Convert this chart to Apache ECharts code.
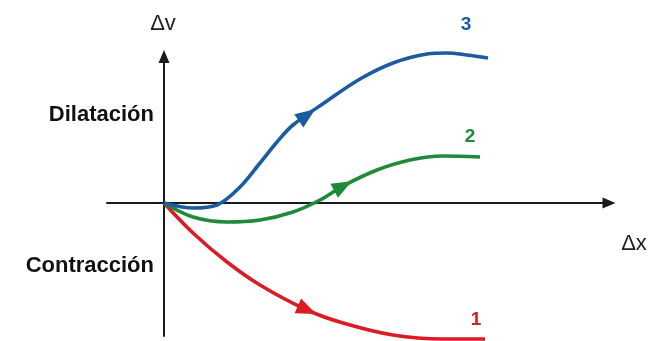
<!DOCTYPE html>
<html>
<head>
<meta charset="utf-8">
<script src="https://cdn.jsdelivr.net/npm/echarts@6/dist/echarts.min.js"></script>
<style>
  html, body { margin: 0; padding: 0; background: #fff; }
  #chart { width: 659px; height: 341px; }
</style>
</head>
<body>
<div id="chart"></div>
<script>
// Volume change (Δv) against shear displacement (Δx) for three soil behaviours.
const curve1 = [[0, 0], [0.29, -0.30], [0.63, -0.59], [0.96, -0.82], [1.43, -1.07],
                [1.79, -1.20], [2.29, -1.32], [2.79, -1.36], [3.21, -1.36]];
const curve2 = [[0, 0], [0.29, -0.14], [0.63, -0.19], [0.96, -0.17], [1.29, -0.09],
                [1.56, 0.03], [1.79, 0.17], [2.13, 0.33], [2.46, 0.43], [2.79, 0.47], [3.16, 0.46]];
const curve3 = [[0, 0], [0.29, -0.05], [0.53, -0.02], [0.76, 0.16], [0.96, 0.40],
                [1.13, 0.61], [1.29, 0.78], [1.63, 1.02], [1.96, 1.24], [2.29, 1.40],
                [2.63, 1.49], [2.83, 1.50], [3.03, 1.48], [3.24, 1.45]];

// Where the direction arrows sit on each curve (Δx position).
const arrowX = { c1: 1.43, c2: 1.79, c3: 1.43 };

const curveNames = ['1', '2', '3'];
const colors = { c1: '#dc1c24', c2: '#1f8a3a', c3: '#1b5c9f' };
const zoneLabels = ['Dilatación', 'Contracción'];
const axisNames = ['Δx', 'Δv'];

function interp(data, x) {
  for (let i = 0; i < data.length - 1; i++) {
    const a = data[i], b = data[i + 1];
    if (x >= a[0] && x <= b[0]) {
      const t = (x - a[0]) / (b[0] - a[0]);
      return a[1] + t * (b[1] - a[1]);
    }
  }
  return data[data.length - 1][1];
}

const chart = echarts.init(document.getElementById('chart'), null, { renderer: 'canvas' });

const axisLine = {
  show: true,
  onZero: true,
  symbol: ['none', 'triangle'],
  symbolSize: [11, 13],
  lineStyle: { color: '#1a1a1a', width: 2 }
};

function curveSeries(name, data, color, offset) {
  return {
    type: 'line',
    name: name,
    data: data,
    smooth: 0.35,
    showSymbol: false,
    clip: false,
    lineStyle: { color: color, width: 3.6 },
    endLabel: {
      show: true,
      formatter: name,
      color: color,
      fontFamily: 'Liberation Sans, Arial, sans-serif',
      fontWeight: 'bold',
      fontSize: 19,
      align: 'center',
      verticalAlign: 'middle',
      distance: 0,
      offset: offset
    },
    emphasis: { disabled: true },
    z: 3
  };
}

function arrowSeries(key, data, rot) {
  const x = arrowX[key];
  return {
    type: 'scatter',
    data: [[x, interp(data, x)]],
    symbol: 'triangle',
    symbolSize: [16, 20],
    symbolRotate: rot,
    itemStyle: { color: colors[key], opacity: 1 },
    clip: false,
    silent: true,
    z: 4
  };
}

function buildOption(rots) {
  return {
    animation: false,
    grid: { left: 107, right: 50, top: 56.5, bottom: 5 },
    xAxis: {
      type: 'value', min: -0.57, max: 4.45,
      axisLine: axisLine, axisTick: { show: false }, axisLabel: { show: false },
      splitLine: { show: false }
    },
    yAxis: {
      type: 'value', min: -1.33, max: 1.465,
      axisLine: axisLine, axisTick: { show: false }, axisLabel: { show: false },
      splitLine: { show: false }
    },
    graphic: [
      { type: 'text', x: 154, y: 115,
        style: { text: zoneLabels[0], fill: '#111', font: 'bold 22px "Liberation Sans", Arial, sans-serif',
                 align: 'right', verticalAlign: 'middle' } },
      { type: 'text', x: 154, y: 266,
        style: { text: zoneLabels[1], fill: '#111', font: 'bold 22px "Liberation Sans", Arial, sans-serif',
                 align: 'right', verticalAlign: 'middle' } },
      { type: 'text', x: 634, y: 244,
        style: { text: axisNames[0], fill: '#222', font: '22px "Liberation Sans", Arial, sans-serif',
                 align: 'center', verticalAlign: 'middle' } },
      { type: 'text', x: 163, y: 24,
        style: { text: axisNames[1], fill: '#222', font: '22px "Liberation Sans", Arial, sans-serif',
                 align: 'center', verticalAlign: 'middle' } }
    ],
    series: [
      curveSeries(curveNames[0], curve1, colors.c1, [-9, -19]),
      curveSeries(curveNames[1], curve2, colors.c2, [-10, -20]),
      curveSeries(curveNames[2], curve3, colors.c3, [-22, -33]),
      arrowSeries('c1', curve1, rots.c1),
      arrowSeries('c2', curve2, rots.c2),
      arrowSeries('c3', curve3, rots.c3)
    ]
  };
}

chart.setOption(buildOption({ c1: 0, c2: 0, c3: 0 }));

// Orient each arrow so it points along its curve in the direction of increasing Δx.
function tangentRotation(data, x) {
  const h = 0.12;
  const p1 = chart.convertToPixel({ gridIndex: 0 }, [x - h, interp(data, x - h)]);
  const p2 = chart.convertToPixel({ gridIndex: 0 }, [x + h, interp(data, x + h)]);
  const ang = Math.atan2(-(p2[1] - p1[1]), p2[0] - p1[0]) * 180 / Math.PI;
  return ang - 90;
}

chart.setOption(buildOption({
  c1: tangentRotation(curve1, arrowX.c1),
  c2: tangentRotation(curve2, arrowX.c2),
  c3: tangentRotation(curve3, arrowX.c3)
}));
</script>
</body>
</html>
